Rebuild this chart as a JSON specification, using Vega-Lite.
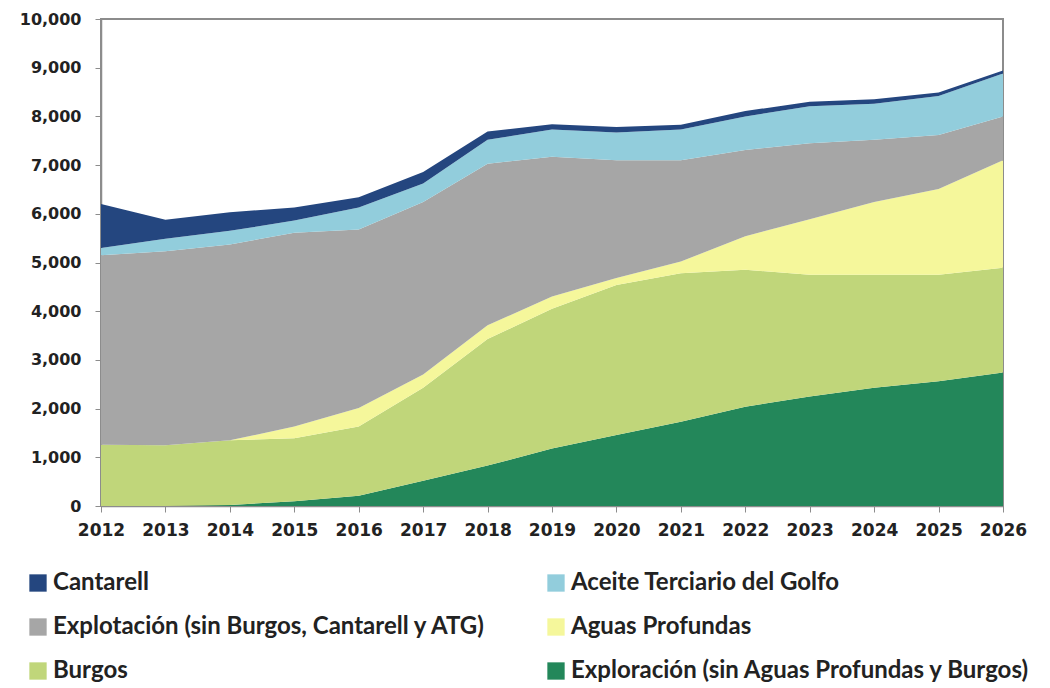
{
  "$schema": "https://vega.github.io/schema/vega-lite/v6.json",
  "width": 902,
  "height": 487,
  "autosize": {"type": "none"},
  "padding": {"left": 101, "top": 19, "right": 47, "bottom": 182},
  "background": "white",
  "config": {
    "view": {"stroke": "#8c8c8c", "strokeWidth": 2},
    "axis": {
      "labelFont": "DejaVu Sans",
      "labelFontWeight": "bold",
      "labelFontSize": 16,
      "labelColor": "#222222",
      "domainColor": "#8c8c8c",
      "domainWidth": 1.5,
      "tickColor": "#8c8c8c",
      "tickSize": 6,
      "grid": false,
      "title": null
    }
  },
  "data": {
    "values": [
      {"year": 2012, "series": "Exploración (sin Aguas Profundas y Burgos)", "rank": 1, "value": 0},
      {"year": 2012, "series": "Burgos", "rank": 2, "value": 1260},
      {"year": 2012, "series": "Aguas Profundas", "rank": 3, "value": 0},
      {"year": 2012, "series": "Explotación (sin Burgos, Cantarell y ATG)", "rank": 4, "value": 3890},
      {"year": 2012, "series": "Aceite Terciario del Golfo", "rank": 5, "value": 150},
      {"year": 2012, "series": "Cantarell", "rank": 6, "value": 900},

      {"year": 2013, "series": "Exploración (sin Aguas Profundas y Burgos)", "rank": 1, "value": 0},
      {"year": 2013, "series": "Burgos", "rank": 2, "value": 1250},
      {"year": 2013, "series": "Aguas Profundas", "rank": 3, "value": 0},
      {"year": 2013, "series": "Explotación (sin Burgos, Cantarell y ATG)", "rank": 4, "value": 3980},
      {"year": 2013, "series": "Aceite Terciario del Golfo", "rank": 5, "value": 260},
      {"year": 2013, "series": "Cantarell", "rank": 6, "value": 390},

      {"year": 2014, "series": "Exploración (sin Aguas Profundas y Burgos)", "rank": 1, "value": 20},
      {"year": 2014, "series": "Burgos", "rank": 2, "value": 1330},
      {"year": 2014, "series": "Aguas Profundas", "rank": 3, "value": 0},
      {"year": 2014, "series": "Explotación (sin Burgos, Cantarell y ATG)", "rank": 4, "value": 4020},
      {"year": 2014, "series": "Aceite Terciario del Golfo", "rank": 5, "value": 280},
      {"year": 2014, "series": "Cantarell", "rank": 6, "value": 380},

      {"year": 2015, "series": "Exploración (sin Aguas Profundas y Burgos)", "rank": 1, "value": 100},
      {"year": 2015, "series": "Burgos", "rank": 2, "value": 1290},
      {"year": 2015, "series": "Aguas Profundas", "rank": 3, "value": 240},
      {"year": 2015, "series": "Explotación (sin Burgos, Cantarell y ATG)", "rank": 4, "value": 3980},
      {"year": 2015, "series": "Aceite Terciario del Golfo", "rank": 5, "value": 250},
      {"year": 2015, "series": "Cantarell", "rank": 6, "value": 270},

      {"year": 2016, "series": "Exploración (sin Aguas Profundas y Burgos)", "rank": 1, "value": 210},
      {"year": 2016, "series": "Burgos", "rank": 2, "value": 1420},
      {"year": 2016, "series": "Aguas Profundas", "rank": 3, "value": 380},
      {"year": 2016, "series": "Explotación (sin Burgos, Cantarell y ATG)", "rank": 4, "value": 3670},
      {"year": 2016, "series": "Aceite Terciario del Golfo", "rank": 5, "value": 450},
      {"year": 2016, "series": "Cantarell", "rank": 6, "value": 210},

      {"year": 2017, "series": "Exploración (sin Aguas Profundas y Burgos)", "rank": 1, "value": 520},
      {"year": 2017, "series": "Burgos", "rank": 2, "value": 1910},
      {"year": 2017, "series": "Aguas Profundas", "rank": 3, "value": 270},
      {"year": 2017, "series": "Explotación (sin Burgos, Cantarell y ATG)", "rank": 4, "value": 3540},
      {"year": 2017, "series": "Aceite Terciario del Golfo", "rank": 5, "value": 380},
      {"year": 2017, "series": "Cantarell", "rank": 6, "value": 240},

      {"year": 2018, "series": "Exploración (sin Aguas Profundas y Burgos)", "rank": 1, "value": 830},
      {"year": 2018, "series": "Burgos", "rank": 2, "value": 2600},
      {"year": 2018, "series": "Aguas Profundas", "rank": 3, "value": 280},
      {"year": 2018, "series": "Explotación (sin Burgos, Cantarell y ATG)", "rank": 4, "value": 3320},
      {"year": 2018, "series": "Aceite Terciario del Golfo", "rank": 5, "value": 490},
      {"year": 2018, "series": "Cantarell", "rank": 6, "value": 170},

      {"year": 2019, "series": "Exploración (sin Aguas Profundas y Burgos)", "rank": 1, "value": 1180},
      {"year": 2019, "series": "Burgos", "rank": 2, "value": 2870},
      {"year": 2019, "series": "Aguas Profundas", "rank": 3, "value": 250},
      {"year": 2019, "series": "Explotación (sin Burgos, Cantarell y ATG)", "rank": 4, "value": 2870},
      {"year": 2019, "series": "Aceite Terciario del Golfo", "rank": 5, "value": 560},
      {"year": 2019, "series": "Cantarell", "rank": 6, "value": 110},

      {"year": 2020, "series": "Exploración (sin Aguas Profundas y Burgos)", "rank": 1, "value": 1460},
      {"year": 2020, "series": "Burgos", "rank": 2, "value": 3080},
      {"year": 2020, "series": "Aguas Profundas", "rank": 3, "value": 140},
      {"year": 2020, "series": "Explotación (sin Burgos, Cantarell y ATG)", "rank": 4, "value": 2420},
      {"year": 2020, "series": "Aceite Terciario del Golfo", "rank": 5, "value": 570},
      {"year": 2020, "series": "Cantarell", "rank": 6, "value": 110},

      {"year": 2021, "series": "Exploración (sin Aguas Profundas y Burgos)", "rank": 1, "value": 1730},
      {"year": 2021, "series": "Burgos", "rank": 2, "value": 3050},
      {"year": 2021, "series": "Aguas Profundas", "rank": 3, "value": 240},
      {"year": 2021, "series": "Explotación (sin Burgos, Cantarell y ATG)", "rank": 4, "value": 2080},
      {"year": 2021, "series": "Aceite Terciario del Golfo", "rank": 5, "value": 630},
      {"year": 2021, "series": "Cantarell", "rank": 6, "value": 100},

      {"year": 2022, "series": "Exploración (sin Aguas Profundas y Burgos)", "rank": 1, "value": 2040},
      {"year": 2022, "series": "Burgos", "rank": 2, "value": 2810},
      {"year": 2022, "series": "Aguas Profundas", "rank": 3, "value": 690},
      {"year": 2022, "series": "Explotación (sin Burgos, Cantarell y ATG)", "rank": 4, "value": 1770},
      {"year": 2022, "series": "Aceite Terciario del Golfo", "rank": 5, "value": 690},
      {"year": 2022, "series": "Cantarell", "rank": 6, "value": 110},

      {"year": 2023, "series": "Exploración (sin Aguas Profundas y Burgos)", "rank": 1, "value": 2250},
      {"year": 2023, "series": "Burgos", "rank": 2, "value": 2500},
      {"year": 2023, "series": "Aguas Profundas", "rank": 3, "value": 1140},
      {"year": 2023, "series": "Explotación (sin Burgos, Cantarell y ATG)", "rank": 4, "value": 1560},
      {"year": 2023, "series": "Aceite Terciario del Golfo", "rank": 5, "value": 760},
      {"year": 2023, "series": "Cantarell", "rank": 6, "value": 90},

      {"year": 2024, "series": "Exploración (sin Aguas Profundas y Burgos)", "rank": 1, "value": 2430},
      {"year": 2024, "series": "Burgos", "rank": 2, "value": 2320},
      {"year": 2024, "series": "Aguas Profundas", "rank": 3, "value": 1490},
      {"year": 2024, "series": "Explotación (sin Burgos, Cantarell y ATG)", "rank": 4, "value": 1280},
      {"year": 2024, "series": "Aceite Terciario del Golfo", "rank": 5, "value": 740},
      {"year": 2024, "series": "Cantarell", "rank": 6, "value": 90},

      {"year": 2025, "series": "Exploración (sin Aguas Profundas y Burgos)", "rank": 1, "value": 2560},
      {"year": 2025, "series": "Burgos", "rank": 2, "value": 2190},
      {"year": 2025, "series": "Aguas Profundas", "rank": 3, "value": 1760},
      {"year": 2025, "series": "Explotación (sin Burgos, Cantarell y ATG)", "rank": 4, "value": 1110},
      {"year": 2025, "series": "Aceite Terciario del Golfo", "rank": 5, "value": 800},
      {"year": 2025, "series": "Cantarell", "rank": 6, "value": 70},

      {"year": 2026, "series": "Exploración (sin Aguas Profundas y Burgos)", "rank": 1, "value": 2740},
      {"year": 2026, "series": "Burgos", "rank": 2, "value": 2150},
      {"year": 2026, "series": "Aguas Profundas", "rank": 3, "value": 2210},
      {"year": 2026, "series": "Explotación (sin Burgos, Cantarell y ATG)", "rank": 4, "value": 900},
      {"year": 2026, "series": "Aceite Terciario del Golfo", "rank": 5, "value": 880},
      {"year": 2026, "series": "Cantarell", "rank": 6, "value": 60}
    ]
  },
  "mark": {"type": "area", "interpolate": "linear"},
  "encoding": {
    "x": {
      "field": "year",
      "type": "quantitative",
      "scale": {"domain": [2012, 2026], "nice": false, "zero": false},
      "axis": {
        "values": [2012, 2013, 2014, 2015, 2016, 2017, 2018, 2019, 2020, 2021, 2022, 2023, 2024, 2025, 2026],
        "format": "d",
        "labelPadding": 10,
        "labelFontSize": 17,
        "labelFlush": false,
        "labelOverlap": false
      }
    },
    "y": {
      "field": "value",
      "type": "quantitative",
      "stack": "zero",
      "scale": {"domain": [0, 10000], "nice": false},
      "axis": {
        "values": [0, 1000, 2000, 3000, 4000, 5000, 6000, 7000, 8000, 9000, 10000],
        "format": ",d",
        "labelPadding": 14,
        "labelFontSize": 16,
        "labelFlush": false
      }
    },
    "order": {"field": "rank", "type": "quantitative"},
    "color": {
      "field": "series",
      "type": "nominal",
      "scale": {
        "domain": [
          "Cantarell",
          "Explotación (sin Burgos, Cantarell y ATG)",
          "Burgos",
          "Aceite Terciario del Golfo",
          "Aguas Profundas",
          "Exploración (sin Aguas Profundas y Burgos)"
        ],
        "range": ["#24467f", "#a6a6a6", "#c0d67a", "#92cddc", "#f5f79b", "#23875a"]
      },
      "legend": {
        "title": null,
        "orient": "none",
        "legendX": -75,
        "legendY": 552,
        "columns": 2,
        "columnPadding": 58,
        "rowPadding": 20,
        "symbolType": "square",
        "symbolSize": 300,
        "symbolStrokeWidth": 0,
        "symbolOpacity": 1,
        "labelOffset": 3,
        "labelFont": "Lato",
        "labelFontSize": 24,
        "labelFontWeight": "bold",
        "labelColor": "#222222",
        "labelLimit": 700
      }
    }
  }
}
